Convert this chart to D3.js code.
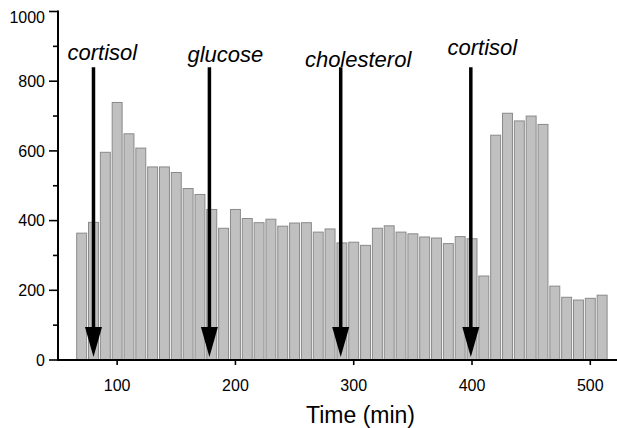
<!DOCTYPE html>
<html>
<head>
<meta charset="utf-8">
<script src="https://cdn.jsdelivr.net/npm/d3@7"></script>
<style>
  html, body { margin: 0; padding: 0; background: #fff; }
  svg { display: block; }
  text { font-family: "Liberation Sans", Arial, Helvetica, sans-serif; fill: #000; }
</style>
</head>
<body>
<svg id="chart" width="617" height="428"></svg>
<script>
// ---- data ----
const times = [70, 80, 90, 100, 110, 120, 130, 140, 150, 160, 170, 180, 190, 200, 210,
               220, 230, 240, 250, 260, 270, 280, 290, 300, 310, 320, 330, 340, 350, 360,
               370, 380, 390, 400, 410, 420, 430, 440, 450, 460, 470, 480, 490, 500, 510];
const counts = [364, 395, 596, 739, 649, 608, 554, 554, 538, 492, 475, 432, 378, 432, 406,
                394, 404, 384, 393, 394, 367, 376, 336, 338, 329, 378, 385, 367, 362, 353,
                350, 334, 354, 348, 241, 645, 708, 686, 700, 676, 212, 180, 172, 177, 186];
const eventNames = ["cortisol", "glucose", "cholesterol", "cortisol"];
const eventTimes = [80, 178, 289, 399];
const yTicks = [0, 200, 400, 600, 800, 1000];
const yMinorTicks = [100, 300, 500, 700, 900];
const xTicks = [100, 200, 300, 400, 500];
const xTitle = "Time (min)";

// ---- layout ----
const svg = d3.select("#chart");
const x = d3.scaleLinear().domain([50, 523]).range([58, 617.5]);
const y = d3.scaleLinear().domain([0, 1000]).range([360, 11.5]);
const barHalf = 4.2;            // half bar width in minutes
const arrowTopValue = 840;      // arrow shaft start (value units)
const labelLayout = [           // label centre (min) and baseline (px)
  { t: 87.5, base: 60 },
  { t: 191.5, base: 62 },
  { t: 303.7, base: 67 },
  { t: 408.7, base: 55 }
];

// bars
svg.append("g").selectAll("rect")
  .data(times.map((t, i) => ({ t, v: counts[i] })))
  .join("rect")
  .attr("x", d => x(d.t - barHalf))
  .attr("width", d => x(d.t + barHalf) - x(d.t - barHalf))
  .attr("y", d => y(d.v))
  .attr("height", d => y(0) - y(d.v))
  .attr("fill", "#c0c0c0")
  .attr("stroke", "#8a8a8a")
  .attr("stroke-width", 1);

// y axis
const yAxisG = svg.append("g").attr("transform", `translate(${x(50)},0)`);
yAxisG.append("line")
  .attr("x1", 0).attr("x2", 0)
  .attr("y1", y(1000) - 1).attr("y2", y(0) + 1)
  .attr("stroke", "#000").attr("stroke-width", 2);
yAxisG.selectAll("line.major").data(yTicks).join("line")
  .attr("class", "major")
  .attr("x1", -9).attr("x2", 0)
  .attr("y1", d => y(d)).attr("y2", d => y(d))
  .attr("stroke", "#000").attr("stroke-width", 1.6);
yAxisG.selectAll("line.minor").data(yMinorTicks).join("line")
  .attr("class", "minor")
  .attr("x1", -5).attr("x2", 0)
  .attr("y1", d => y(d)).attr("y2", d => y(d))
  .attr("stroke", "#000").attr("stroke-width", 1.6);
yAxisG.selectAll("text").data(yTicks).join("text")
  .attr("x", -13)
  .attr("y", d => y(d) + (d === 1000 ? 5.5 : 0))
  .attr("dy", "0.36em")
  .attr("text-anchor", "end")
  .attr("font-size", 16)
  .text(d => d);

// x axis
const xAxisG = svg.append("g").attr("transform", `translate(0,${y(0)})`);
xAxisG.append("line")
  .attr("x1", x(50) - 1).attr("x2", x(523))
  .attr("y1", 0).attr("y2", 0)
  .attr("stroke", "#000").attr("stroke-width", 2);
xAxisG.selectAll("line.tick").data(xTicks).join("line")
  .attr("class", "tick")
  .attr("x1", d => x(d)).attr("x2", d => x(d))
  .attr("y1", 0).attr("y2", 5)
  .attr("stroke", "#000").attr("stroke-width", 1.6);
xAxisG.selectAll("text").data(xTicks).join("text")
  .attr("x", d => x(d))
  .attr("y", 31)
  .attr("text-anchor", "middle")
  .attr("font-size", 16)
  .text(d => d);

svg.append("text")
  .attr("x", 360.5).attr("y", 423)
  .attr("text-anchor", "middle")
  .attr("font-size", 23)
  .text(xTitle);

// event arrows
const headH = 30, headW = 17;
const arrows = svg.append("g");
eventTimes.forEach((t, i) => {
  const cx = x(t);
  const tipY = y(0) - 3;
  arrows.append("line")
    .attr("x1", cx).attr("x2", cx)
    .attr("y1", y(arrowTopValue)).attr("y2", tipY - headH + 2)
    .attr("stroke", "#000").attr("stroke-width", 3.5);
  arrows.append("path")
    .attr("d", `M${cx - headW / 2},${tipY - headH} L${cx + headW / 2},${tipY - headH} L${cx},${tipY} Z`)
    .attr("fill", "#000");
  svg.append("text")
    .attr("x", x(labelLayout[i].t))
    .attr("y", labelLayout[i].base)
    .attr("text-anchor", "middle")
    .attr("font-size", 22)
    .attr("font-style", "italic")
    .text(eventNames[i]);
});
</script>
</body>
</html>
